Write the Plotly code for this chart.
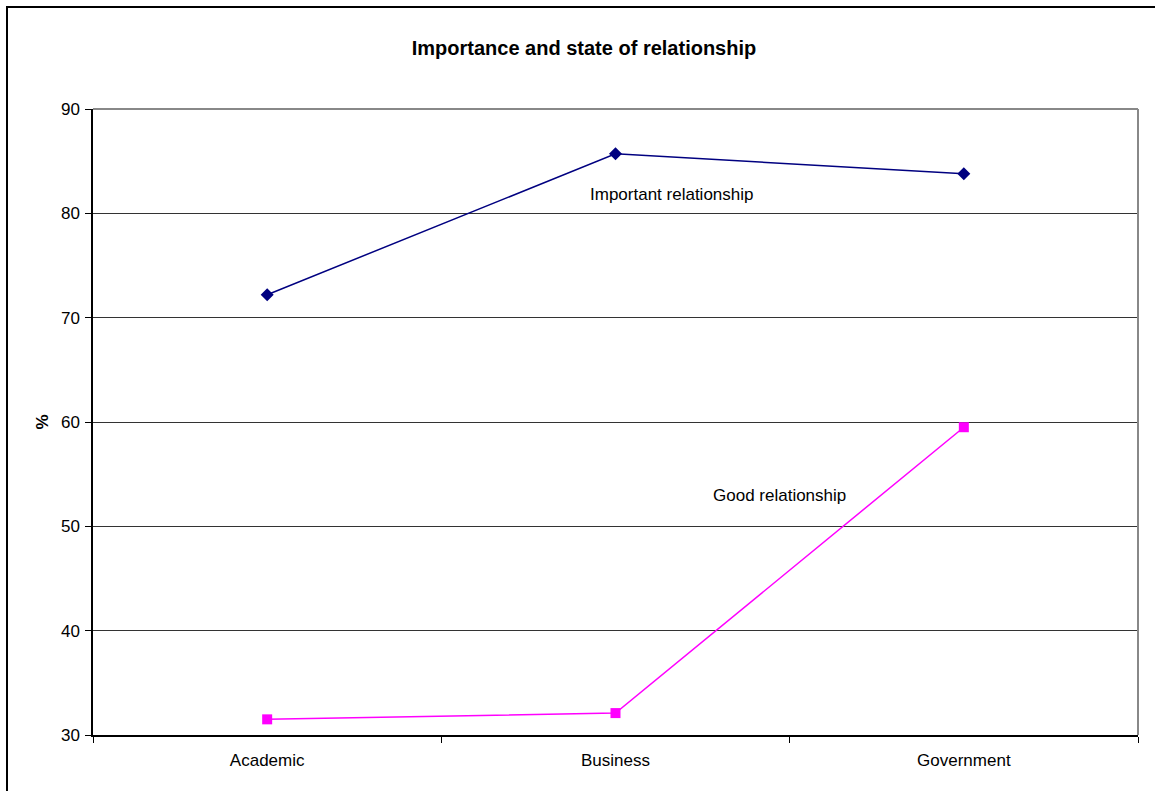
import plotly.graph_objects as go

categories = ["Academic", "Business", "Government"]
important = [72.2, 85.7, 83.8]
good = [31.5, 32.1, 59.5]
y_ticks = [30, 40, 50, 60, 70, 80, 90]

W, H = 1155, 791
L, R, T, B = 93, 17, 109, 56
xpos = list(range(len(categories)))

fig = go.Figure()
fig.add_trace(go.Scatter(
    x=xpos, y=important, mode="lines+markers", name="Important relationship",
    line=dict(color="#000080", width=1.5),
    marker=dict(symbol="diamond", size=10, color="#000080"),
))
fig.add_trace(go.Scatter(
    x=xpos, y=good, mode="lines+markers", name="Good relationship",
    line=dict(color="#FF00FF", width=1.5),
    marker=dict(symbol="square", size=10, color="#FF00FF"),
))

# series labels placed inside the plot
fig.add_annotation(x=1.162, y=81.85, text="Important relationship", showarrow=False,
                   font=dict(family="Liberation Sans, Arial", size=17, color="#000"))
fig.add_annotation(x=1.47, y=53.0, text="Good relationship", showarrow=False,
                   font=dict(family="Liberation Sans, Arial", size=17, color="#000"))

# outer chart frame
pw = W - L - R
ph = H - T - B
fig.add_shape(type="rect", xref="paper", yref="paper",
              x0=(7 - L) / pw, x1=(W + 20 - L) / pw,
              y0=-(H + 20 - T - ph) / ph, y1=(H - B - 7) / ph,
              line=dict(color="#000", width=2), layer="above")
# gray plot-area border on top and right
fig.add_shape(type="line", xref="paper", yref="paper", x0=0, x1=1, y0=1, y1=1,
              line=dict(color="#888", width=2))
fig.add_shape(type="line", xref="paper", yref="paper", x0=1, x1=1, y0=0, y1=1,
              line=dict(color="#888", width=2))

fig.update_layout(
    width=W, height=H,
    margin=dict(l=L, r=R, t=T, b=B),
    paper_bgcolor="white", plot_bgcolor="white",
    showlegend=False,
    font=dict(family="Liberation Sans, Arial", size=17, color="#000"),
    title=dict(text="<b>Importance and state of relationship</b>",
               x=584 / W, xanchor="center", y=1 - 48 / H, yanchor="middle",
               font=dict(size=20, color="#000")),
    xaxis=dict(
        range=[-0.5, 2.5], tickmode="array", tickvals=xpos, ticktext=categories,
        ticks="", showgrid=False, zeroline=False,
        showline=True, linecolor="#000", linewidth=1.5,
        ticklabelstandoff=9,
        minor=dict(tickmode="linear", tick0=-0.5, dtick=1, ticks="outside",
                   ticklen=6, tickcolor="#000", tickwidth=1, showgrid=False),
        tickfont=dict(size=17),
    ),
    yaxis=dict(
        range=[30, 90], tickmode="array", tickvals=y_ticks,
        ticks="outside", ticklen=6, tickcolor="#000",
        ticklabelstandoff=2,
        showgrid=True, gridcolor="#333", gridwidth=1, zeroline=False,
        showline=True, linecolor="#000", linewidth=1.5,
        title=dict(text="<b>%</b>", standoff=8, font=dict(size=17)),
        tickfont=dict(size=17),
    ),
)

fig.write_html("out.html")
